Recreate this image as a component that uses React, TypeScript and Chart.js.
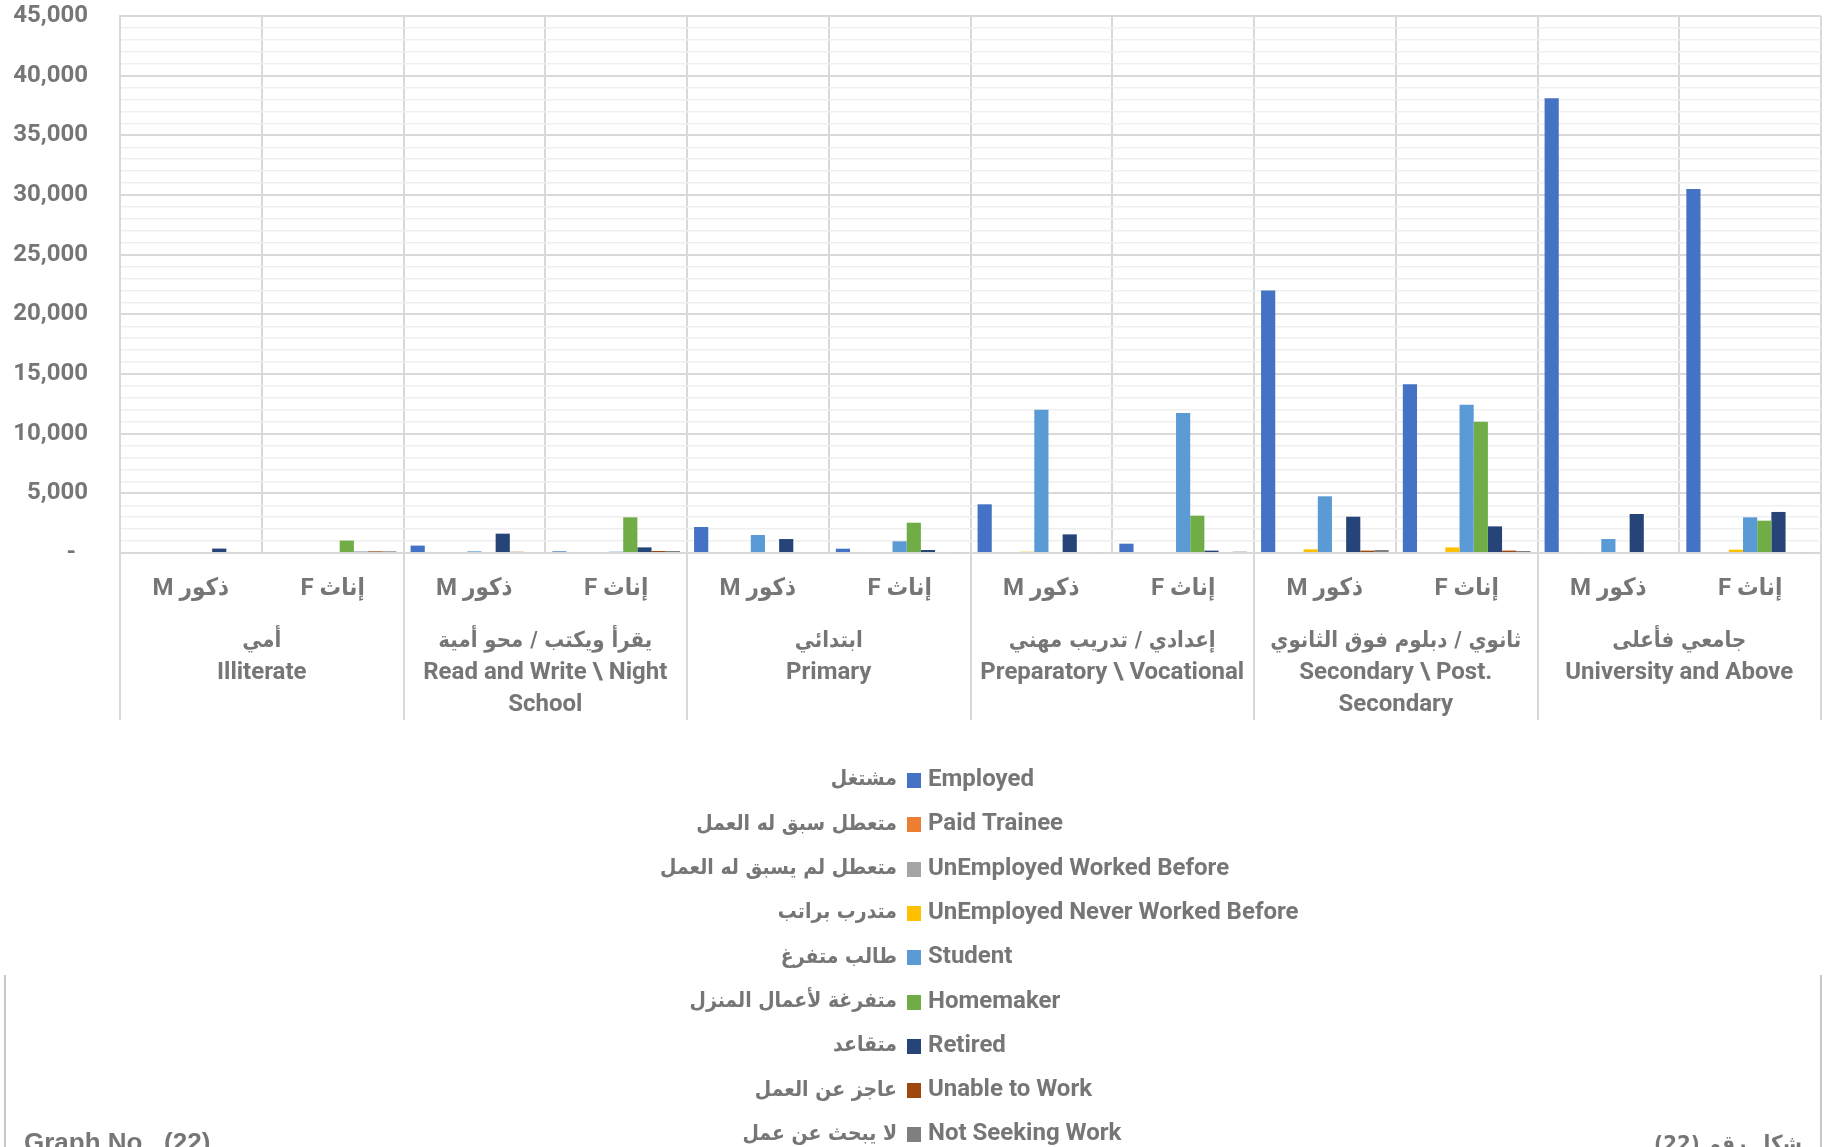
import React, { useEffect, useRef } from 'react';
import { Chart, registerables } from 'chart.js';

Chart.register(...registerables);

// ---------- data ----------
const CATEGORIES = [
  'M ذكور', 'F إناث',
  'M ذكور', 'F إناث',
  'M ذكور', 'F إناث',
  'M ذكور', 'F إناث',
  'M ذكور', 'F إناث',
  'M ذكور', 'F إناث',
];

const GROUP_LABELS: string[][] = [
  ['أمي', 'Illiterate'],
  ['يقرأ ويكتب / محو أمية', 'Read and Write \\ Night', 'School'],
  ['ابتدائي', 'Primary'],
  ['إعدادي / تدريب مهني', 'Preparatory \\ Vocational'],
  ['ثانوي / دبلوم فوق الثانوي', 'Secondary \\ Post.', 'Secondary'],
  ['جامعي فأعلى', 'University and Above'],
];

const SERIES_NAMES = [
  'Employed',
  'Paid Trainee',
  'UnEmployed Worked Before',
  'UnEmployed Never Worked Before',
  'Student',
  'Homemaker',
  'Retired',
  'Unable to Work',
  'Not Seeking Work',
];

const SERIES_ARABIC = [
  'مشتغل',
  'متعطل سبق له العمل',
  'متعطل لم يسبق له العمل',
  'متدرب براتب',
  'طالب متفرغ',
  'متفرغة لأعمال المنزل',
  'متقاعد',
  'عاجز عن العمل',
  'لا يبحث عن عمل',
];

const SERIES_COLORS = [
  '#4472C4', '#ED7D31', '#A5A5A5', '#FFC000', '#5B9BD5',
  '#70AD47', '#264478', '#9E480E', '#7F7F7F',
];

const EMPLOYED = [0, 0, 620, 140, 2180, 360, 4080, 780, 22000, 14150, 38100, 30500];
const PAID_TRAINEE = [0, 0, 0, 0, 0, 0, 0, 0, 0, 0, 0, 0];
const UNEMP_WORKED = [0, 0, 0, 0, 0, 0, 0, 0, 0, 0, 80, 80];
const UNEMP_NEVER = [0, 0, 0, 0, 0, 0, 110, 80, 310, 470, 80, 280];
const STUDENT = [0, 0, 140, 110, 1510, 980, 12000, 11730, 4750, 12430, 1170, 2990];
const HOMEMAKER = [0, 1040, 0, 2990, 0, 2540, 0, 3130, 0, 11000, 0, 2710];
const RETIRED = [370, 110, 1620, 470, 1170, 250, 1560, 200, 3040, 2230, 3270, 3440];
const UNABLE = [0, 140, 100, 170, 0, 0, 0, 0, 200, 200, 0, 0];
const NOT_SEEKING = [0, 140, 0, 170, 0, 80, 80, 110, 250, 170, 0, 80];

const SERIES_VALUES = [
  EMPLOYED, PAID_TRAINEE, UNEMP_WORKED, UNEMP_NEVER, STUDENT,
  HOMEMAKER, RETIRED, UNABLE, NOT_SEEKING,
];

const Y_MAX = 45000;
const Y_MINOR_STEP = 1000;
const Y_MAJOR_STEP = 5000;

const FOOT_LEFT = 'Graph No.  (22)';
const FOOT_RIGHT = 'شكل رقم (22)';

// ---------- styling ----------
const TEXT_COLOR = '#767676';
const FONT_FAMILY = "Roboto, 'DejaVu Sans Condensed', 'DejaVu Sans', sans-serif";
const ARABIC_FAMILY = "'DejaVu Sans Condensed', 'DejaVu Sans', sans-serif";
const GRID_MAJOR = '#d9d9d9';
const GRID_MINOR = '#efefef';

const isArabic = (s: string) => /[\u0600-\u06FF]/.test(s);

const customPlugin = {
  id: 'customLabels',
  afterDraw(chart: any) {
    const ctx: CanvasRenderingContext2D = chart.ctx;
    const xs = chart.scales.x;
    const area = chart.chartArea;
    const cw = xs.getPixelForValue(1) - xs.getPixelForValue(0);
    ctx.save();

    // group separator lines below the axis
    ctx.strokeStyle = GRID_MAJOR;
    ctx.lineWidth = 2;
    for (let g = 0; g <= GROUP_LABELS.length; g++) {
      const xp = Math.round(xs.getPixelForValue(Math.min(g * 2, CATEGORIES.length - 1)) + (g * 2 >= CATEGORIES.length ? cw / 2 : -cw / 2));
      ctx.beginPath();
      ctx.moveTo(xp, area.bottom);
      ctx.lineTo(xp, area.bottom + 167);
      ctx.stroke();
    }

    // group labels
    ctx.fillStyle = TEXT_COLOR;
    ctx.textAlign = 'center';
    ctx.textBaseline = 'middle';
    GROUP_LABELS.forEach((lines, g) => {
      const cx = (xs.getPixelForValue(g * 2) + xs.getPixelForValue(g * 2 + 1)) / 2;
      lines.forEach((line, li) => {
        if (isArabic(line)) {
          ctx.direction = 'rtl';
          ctx.font = `bold 22px ${ARABIC_FAMILY}`;
        } else {
          ctx.direction = 'ltr';
          ctx.font = `bold 24px ${FONT_FAMILY}`;
        }
        ctx.fillText(line, cx, area.bottom + 88 + li * 32);
      });
    });

    // legend
    const legTop = 780;
    const legStep = 44.3;
    chart.data.datasets.forEach((ds: any, i: number) => {
      const cy = legTop + i * legStep;
      ctx.fillStyle = ds.backgroundColor;
      ctx.fillRect(907, Math.round(cy - 7), 14, 15);
      ctx.fillStyle = TEXT_COLOR;
      ctx.textBaseline = 'middle';
      ctx.direction = 'ltr';
      ctx.textAlign = 'left';
      ctx.font = `bold 24px ${FONT_FAMILY}`;
      ctx.fillText(ds.label, 928, cy);
      ctx.direction = 'rtl';
      ctx.textAlign = 'right';
      ctx.font = `bold 21px ${ARABIC_FAMILY}`;
      ctx.fillText(SERIES_ARABIC[i], 897, cy);
    });

    // text-box frame
    ctx.strokeStyle = '#c8c8c8';
    ctx.lineWidth = 2;
    ctx.beginPath();
    ctx.moveTo(5, 975);
    ctx.lineTo(5, 1147);
    ctx.moveTo(1821, 975);
    ctx.lineTo(1821, 1147);
    ctx.stroke();

    // footers
    ctx.fillStyle = TEXT_COLOR;
    ctx.font = `bold 26px 'Liberation Sans', Arial, sans-serif`;
    ctx.textBaseline = 'alphabetic';
    ctx.direction = 'ltr';
    ctx.textAlign = 'left';
    ctx.fillText(FOOT_LEFT, 24, 1151);
    ctx.direction = 'rtl';
    ctx.textAlign = 'right';
    ctx.font = `bold 22px ${ARABIC_FAMILY}`;
    ctx.fillText(FOOT_RIGHT, 1802, 1151);

    ctx.restore();
  },
};

export default function App() {
  const canvasRef = useRef<HTMLCanvasElement | null>(null);

  useEffect(() => {
    const canvas = canvasRef.current;
    if (!canvas) return;
    const yTicks: { value: number }[] = [];
    for (let v = 0; v <= Y_MAX; v += Y_MINOR_STEP) yTicks.push({ value: v });

    const chart = new Chart(canvas, {
      type: 'bar',
      data: {
        labels: CATEGORIES,
        datasets: SERIES_NAMES.map((name, i) => ({
          label: name,
          data: SERIES_VALUES[i],
          backgroundColor: SERIES_COLORS[i],
          borderWidth: 0,
          categoryPercentage: 0.9,
          barPercentage: 1.0,
        })),
      },
      options: {
        animation: false,
        responsive: false,
        devicePixelRatio: 1,
        layout: { padding: { left: 0, right: 8, top: 16, bottom: 0 } },
        plugins: {
          legend: { display: false },
          tooltip: { enabled: false },
        },
        scales: {
          x: {
            grid: { color: GRID_MAJOR, lineWidth: 2, drawTicks: false, offset: true },
            border: { color: GRID_MAJOR, width: 2 },
            ticks: {
              autoSkip: false,
              maxRotation: 0,
              padding: 22,
              color: TEXT_COLOR,
              font: { family: FONT_FAMILY, size: 24, weight: 'bold' },
            },
            afterFit: (s: any) => { s.height = 594; s.paddingTop = 0; s.paddingBottom = 0; },
          },
          y: {
            min: 0,
            max: Y_MAX,
            afterBuildTicks: (s: any) => { s.ticks = yTicks.map((t) => ({ ...t })); },
            ticks: {
              autoSkip: false,
              padding: 32,
              color: TEXT_COLOR,
              font: { family: FONT_FAMILY, size: 24, weight: 'bold' },
              callback: (v: any) => {
                const n = Number(v);
                if (n % Y_MAJOR_STEP !== 0) return '';
                if (n === 0) return '-  ';
                return n.toLocaleString('en-US');
              },
            },
            grid: {
              drawTicks: false,
              color: (c: any) => (c.tick && c.tick.value % Y_MAJOR_STEP === 0 ? GRID_MAJOR : GRID_MINOR),
              lineWidth: (c: any) => (c.tick && c.tick.value % Y_MAJOR_STEP === 0 ? 2 : 1.5),
            },
            border: { color: GRID_MAJOR, width: 2 },
            afterFit: (s: any) => { s.width = 120; s.paddingTop = 0; s.paddingBottom = 0; },
          },
        },
      } as any,
      plugins: [customPlugin],
    });
    return () => chart.destroy();
  }, []);

  return (
    <div style={{ position: 'absolute', left: 0, top: 0, width: 1829, height: 1147, background: '#fff' }}>
      <canvas ref={canvasRef} width={1829} height={1147} style={{ display: 'block' }} />
    </div>
  );
}
